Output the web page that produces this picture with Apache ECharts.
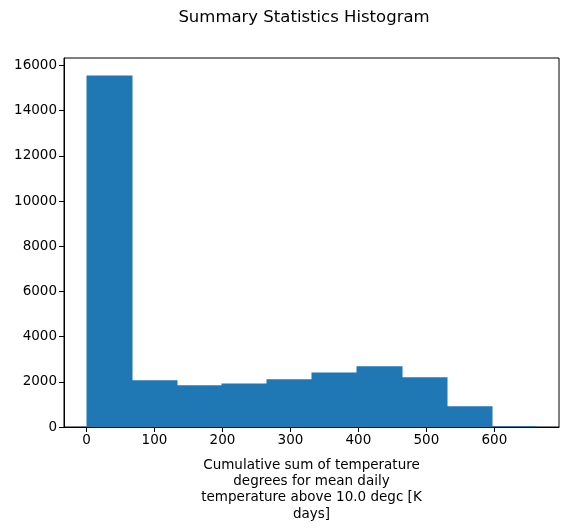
<!DOCTYPE html>
<html>
<head>
<meta charset="utf-8">
<script src="https://cdn.jsdelivr.net/npm/echarts@6/dist/echarts.min.js"></script>
<style>
html,body{margin:0;padding:0;background:#fff;}
#chart{width:570px;height:529px;}
</style>
</head>
<body>
<div id="chart"></div>
<script>
// Histogram bin edges and counts
const binEdges = [0, 66.2, 132.4, 198.6, 264.8, 331.0, 397.2, 463.4, 529.6, 595.8, 662.0];
const counts = [15550, 2065, 1845, 1930, 2110, 2415, 2685, 2200, 915, 30];
const xTicks = [0, 100, 200, 300, 400, 500, 600];
const yTicks = [0, 2000, 4000, 6000, 8000, 10000, 12000, 14000, 16000];
const titleText = 'Summary Statistics Histogram';
const xLabel = 'Cumulative sum of temperature\ndegrees for mean daily\ntemperature above 10.0 degc [K\ndays]';

const bins = counts.map((c, i) => [binEdges[i], binEdges[i + 1], c]);
const xSpan = binEdges[binEdges.length - 1] - binEdges[0];
const yMaxData = Math.max(...counts);

const font = 'DejaVu Sans';
const chart = echarts.init(document.getElementById('chart'), null, {renderer: 'canvas'});
chart.setOption({
  animation: false,
  graphic: [{
    type: 'text', x: 304, y: 9,
    style: {text: titleText, font: '16.5px "DejaVu Sans"', fill: '#000', textAlign: 'center', textVerticalAlign: 'top'}
  }],
  grid: {left: 64, right: 11, top: 58, bottom: 102, show: true, borderColor: '#000', borderWidth: 1, backgroundColor: 'transparent'},
  xAxis: {
    type: 'value',
    min: binEdges[0] - xSpan * 0.05,
    max: binEdges[binEdges.length - 1] + xSpan * 0.05,
    axisLine: {show: true, onZero: false, lineStyle: {color: '#000', width: 1}},
    axisTick: {show: true, inside: false, length: 5, lineStyle: {color: '#000', width: 1}, customValues: xTicks},
    axisLabel: {color: '#000', fontFamily: font, fontSize: 13.5, margin: 6, customValues: xTicks, formatter: v => String(v)},
    splitLine: {show: false},
    name: xLabel,
    nameLocation: 'middle',
    nameGap: 30,
    nameTextStyle: {color: '#000', fontFamily: font, fontSize: 13.5, lineHeight: 16.3, verticalAlign: 'top'}
  },
  yAxis: {
    type: 'value',
    min: 0,
    max: yMaxData * 1.05,
    axisLine: {show: true, onZero: false, lineStyle: {color: '#000', width: 1}},
    axisTick: {show: true, inside: false, length: 5, lineStyle: {color: '#000', width: 1}, customValues: yTicks},
    axisLabel: {color: '#000', fontFamily: font, fontSize: 13.5, margin: 7, customValues: yTicks, formatter: v => String(v)},
    splitLine: {show: false}
  },
  series: [{
    type: 'custom',
    data: bins,
    encode: {x: [0, 1], y: 2},
    renderItem: function (params, api) {
      const p0 = api.coord([api.value(0), api.value(2)]);
      const p1 = api.coord([api.value(1), 0]);
      const extra = params.dataIndex < params.dataInsideLength - 1 ? 1 : 0;
      return {
        type: 'rect',
        shape: {x: p0[0], y: p0[1], width: p1[0] - p0[0] + extra, height: p1[1] - p0[1]},
        style: {fill: '#1f77b4'}
      };
    }
  }]
});
</script>
</body>
</html>
